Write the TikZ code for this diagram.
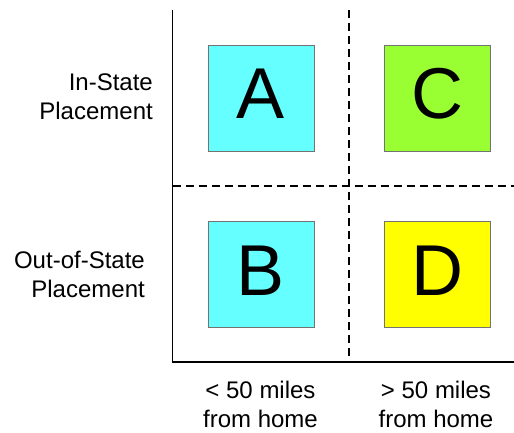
\documentclass[tikz,border=0pt]{standalone}
\usepackage{fontspec}
\setmainfont{Liberation Sans}
\begin{document}
\begin{tikzpicture}[x=1pt,y=-1pt,
  cell/.style={draw=gray!90!black, line width=0.8pt, minimum width=106pt, minimum height=106pt, inner sep=0pt},
  letter/.style={font=\fontsize{72}{80}\selectfont, inner sep=0pt},
  axislabel/.style={font=\fontsize{24}{29}\selectfont, inner sep=0pt},
  axisline/.style={line width=1.3pt, black},
  divider/.style={line width=1.3pt, black, dash pattern=on 8pt off 5pt}]
\useasboundingbox (0,0) rectangle (514,432);
\coordinate (top) at (172.5,10);
\coordinate (origin) at (172.5,362);
\coordinate (right) at (514,362);
\coordinate (vtop) at (349,10);
\coordinate (vbot) at (349,362);
\coordinate (hl) at (172.5,186);
\coordinate (hr) at (514,186);
\draw[divider] (vtop) -- (vbot);
\draw[divider] (hl) -- (hr);
\draw[axisline] (top) -- (origin) -- (right);
\node[cell, fill={rgb,255:red,102;green,255;blue,255}] (A) at (261,98) {};
\node[cell, fill={rgb,255:red,153;green,255;blue,51}] (C) at (437,98) {};
\node[cell, fill={rgb,255:red,102;green,255;blue,255}] (B) at (261,274) {};
\node[cell, fill={rgb,255:red,255;green,255;blue,0}] (D) at (437,274) {};
\node[letter] (Al) at (261,94) {A};
\node[letter] (Cl) at (437,94) {C};
\node[letter] (Bl) at (261,271) {B};
\node[letter] (Dl) at (437,271) {D};
\node[axislabel, align=right, anchor=east] (in) at (153,97) {In-State\\Placement};
\node[axislabel, align=right, anchor=east] (out) at (145,274) {Out-of-State\\Placement};
\node[axislabel, align=center] (near) at (260.5,404) {< 50 miles\\from home};
\node[axislabel, align=center] (far) at (436,404) {> 50 miles\\from home};
\end{tikzpicture}
\end{document}
